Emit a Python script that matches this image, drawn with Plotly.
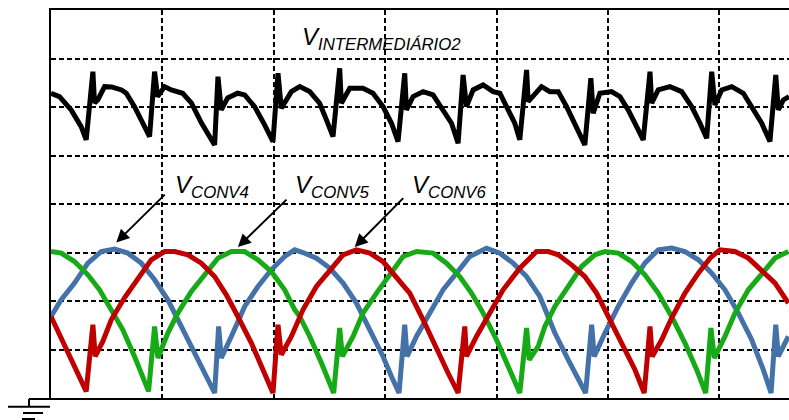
import plotly.graph_objects as go

# Oscilloscope capture: time and amplitude both expressed in screen divisions.

# V_INTERMEDIÁRIO2 (black trace)
t_int = [0.000, 0.076, 0.181, 0.271, 0.316, 0.376, 0.391, 0.420, 0.481, 0.544, 0.633, 0.676,
         0.750, 0.822, 0.885, 0.930, 0.957, 1.020, 1.080, 1.182, 1.260, 1.350, 1.469, 1.499,
         1.529, 1.586, 1.676, 1.739, 1.828, 1.918, 1.993, 2.038, 2.068, 2.158, 2.233, 2.323,
         2.412, 2.473, 2.532, 2.592, 2.607, 2.682, 2.801, 2.891, 2.981, 3.057, 3.116, 3.176,
         3.191, 3.251, 3.341, 3.430, 3.520, 3.596, 3.655, 3.700, 3.730, 3.790, 3.880, 3.969,
         4.030, 4.104, 4.164, 4.209, 4.270, 4.284, 4.359, 4.404, 4.479, 4.554, 4.629, 4.704,
         4.793, 4.847, 4.868, 4.928, 5.033, 5.108, 5.182, 5.258, 5.317, 5.378, 5.393, 5.452,
         5.557, 5.662, 5.752, 5.827, 5.887, 5.932, 5.961, 6.022, 6.112, 6.216, 6.291, 6.381,
         6.455, 6.507, 6.530, 6.575, 6.626]
v_int = [6.284, 6.214, 5.940, 5.595, 5.322, 6.729, 6.084, 6.146, 6.420, 6.413, 6.352, 6.284,
         6.008, 5.672, 5.389, 6.729, 6.214, 6.420, 6.352, 6.284, 6.084, 5.672, 5.218, 6.626,
         5.940, 6.187, 6.284, 6.249, 6.008, 5.631, 5.287, 6.696, 5.975, 6.317, 6.420, 6.317,
         6.078, 5.734, 5.389, 6.799, 6.078, 6.387, 6.387, 6.284, 6.008, 5.665, 5.287, 6.696,
         5.940, 6.214, 6.317, 6.249, 5.940, 5.665, 5.253, 6.661, 6.008, 6.352, 6.455, 6.317,
         6.284, 5.940, 5.665, 5.322, 6.764, 6.111, 6.284, 6.420, 6.317, 6.317, 6.008, 5.665,
         5.218, 6.593, 5.872, 6.284, 6.317, 6.214, 5.940, 5.595, 5.322, 6.729, 6.078, 6.352,
         6.420, 6.317, 6.008, 5.665, 5.357, 6.729, 6.043, 6.352, 6.420, 6.284, 6.008, 5.665,
         5.287, 6.661, 5.940, 6.146, 6.214]

# V_CONV4 (blue trace)
t_c4 = [0.000, 0.092, 0.211, 0.331, 0.451, 0.571, 0.690, 0.810, 0.930, 1.049, 1.170, 1.289,
        1.394, 1.469, 1.505, 1.529, 1.619, 1.739, 1.858, 1.978, 2.098, 2.188, 2.262, 2.383,
        2.502, 2.622, 2.742, 2.862, 2.981, 3.057, 3.125, 3.176, 3.197, 3.281, 3.401, 3.520,
        3.641, 3.760, 3.910, 4.030, 4.149, 4.270, 4.389, 4.434, 4.524, 4.643, 4.733, 4.800,
        4.854, 4.877, 4.973, 5.093, 5.213, 5.332, 5.452, 5.572, 5.692, 5.812, 5.932, 6.051,
        6.171, 6.291, 6.395, 6.465, 6.507, 6.530, 6.620]
v_c4 = [1.681, 2.025, 2.369, 2.781, 3.020, 3.070, 2.987, 2.781, 2.437, 2.025, 1.475, 0.927,
        0.445, 0.103, 1.475, 0.824, 1.269, 1.887, 2.299, 2.643, 2.917, 3.055, 3.000, 2.884,
        2.678, 2.369, 1.957, 1.407, 0.857, 0.445, 0.103, 1.510, 0.857, 1.269, 1.751, 2.231,
        2.575, 2.917, 3.090, 2.987, 2.781, 2.505, 2.093, 1.819, 1.339, 0.789, 0.377, 0.103,
        1.510, 0.857, 1.339, 1.887, 2.369, 2.781, 3.055, 3.090, 3.020, 2.849, 2.575, 2.231,
        1.751, 1.201, 0.583, 0.103, 1.510, 0.857, 1.269]

# V_CONV5 (green trace)
t_c5 = [0.000, 0.092, 0.211, 0.331, 0.436, 0.541, 0.645, 0.750, 0.876, 0.930, 0.960, 1.049,
        1.139, 1.260, 1.379, 1.499, 1.619, 1.739, 1.858, 1.978, 2.098, 2.188, 2.233, 2.323,
        2.428, 2.538, 2.592, 2.616, 2.712, 2.801, 2.922, 3.041, 3.161, 3.281, 3.430, 3.551,
        3.670, 3.775, 3.880, 4.000, 4.104, 4.209, 4.270, 4.293, 4.374, 4.434, 4.524, 4.643,
        4.764, 4.883, 4.973, 5.093, 5.213, 5.332, 5.452, 5.572, 5.692, 5.797, 5.878, 5.925,
        5.955, 6.051, 6.141, 6.261, 6.381, 6.501, 6.620]
v_c5 = [3.020, 2.987, 2.814, 2.540, 2.231, 1.819, 1.407, 0.857, 0.136, 1.475, 0.824, 1.339,
        1.751, 2.196, 2.540, 2.884, 3.020, 3.020, 2.849, 2.608, 2.231, 1.819, 1.681, 1.269,
        0.721, 0.103, 1.442, 0.857, 1.269, 1.751, 2.163, 2.540, 2.917, 3.020, 2.987, 2.781,
        2.505, 2.163, 1.751, 1.201, 0.651, 0.103, 1.442, 0.789, 1.063, 1.475, 1.887, 2.299,
        2.711, 2.952, 3.020, 2.987, 2.814, 2.540, 2.163, 1.681, 1.133, 0.583, 0.103, 1.442,
        0.824, 1.269, 1.751, 2.231, 2.575, 2.884, 3.020]

# V_CONV6 (red trace)
t_c6 = [0.000, 0.316, 0.376, 0.397, 0.465, 0.541, 0.660, 0.780, 0.900, 1.020, 1.110, 1.229,
        1.350, 1.469, 1.574, 1.678, 1.799, 1.903, 1.993, 2.038, 2.068, 2.158, 2.262, 2.383,
        2.502, 2.622, 2.742, 2.862, 2.981, 3.101, 3.221, 3.341, 3.461, 3.565, 3.655, 3.715,
        3.730, 3.820, 3.940, 4.059, 4.209, 4.359, 4.464, 4.554, 4.674, 4.793, 4.898, 5.003,
        5.123, 5.243, 5.326, 5.378, 5.398, 5.483, 5.572, 5.692, 5.812, 5.917, 6.006, 6.141,
        6.261, 6.381, 6.501, 6.620]
v_c6 = [1.681, 0.136, 1.510, 0.857, 1.166, 1.613, 2.066, 2.472, 2.849, 3.020, 3.020, 2.952,
        2.781, 2.505, 2.128, 1.681, 1.133, 0.583, 0.103, 1.510, 0.892, 1.269, 1.819, 2.299,
        2.643, 2.952, 3.055, 2.987, 2.814, 2.505, 2.163, 1.613, 0.995, 0.515, 0.103, 1.475,
        0.857, 1.269, 1.751, 2.231, 2.678, 3.020, 3.020, 2.952, 2.746, 2.505, 2.163, 1.681,
        1.133, 0.583, 0.103, 1.475, 0.857, 1.201, 1.648, 2.163, 2.575, 2.884, 3.055, 3.020,
        2.884, 2.643, 2.369, 1.957]

X_SPAN = 6.626   # visible horizontal divisions
Y_SPAN = 8.0     # vertical divisions

FONT = "Arial, Liberation Sans, sans-serif"

fig = go.Figure()

traces = [
    (t_c4, v_c4, "#4472A8", 5, "V_CONV4"),
    (t_c5, v_c5, "#17AA17", 5, "V_CONV5"),
    (t_c6, v_c6, "#C00000", 5, "V_CONV6"),
    (t_int, v_int, "#000000", 5, "V_INTERMEDIÁRIO2"),
]
for t, v, color, width, name in traces:
    fig.add_trace(go.Scatter(
        x=t, y=v, mode="lines", name=name,
        line=dict(color=color, width=width, shape="linear"),
        showlegend=False, hoverinfo="skip",
    ))

# Channel labels
labels = [
    ("V<sub>INTERMEDIÁRIO2</sub>", 2.233, 7.42),
    ("V<sub>CONV4</sub>", 1.092, 4.37),
    ("V<sub>CONV5</sub>", 2.172, 4.37),
    ("V<sub>CONV6</sub>", 3.221, 4.37),
]
for text, x, y in labels:
    fig.add_annotation(
        x=x, y=y, xref="x", yref="y", text=f"<i>{text}</i>", showarrow=False,
        xanchor="left", yanchor="middle",
        font=dict(family=FONT, size=24, color="#000000"),
    )

# Pointer arrows (tail -> tip)
arrows = [
    ((1.035, 4.223), (0.586, 3.206)),
    ((2.128, 4.120), (1.678, 3.111)),
    ((3.176, 4.153), (2.727, 3.111)),
]
for (tx, ty), (hx, hy) in arrows:
    fig.add_annotation(
        x=hx, y=hy, xref="x", yref="y", ax=tx, ay=ty, axref="x", ayref="y",
        text="", showarrow=True, arrowhead=2, arrowsize=1.3, arrowwidth=2,
        arrowcolor="#000000",
    )

# Ground symbol below the lower-left corner of the screen
L, T, W, H = 51, 10, 738, 388


def px(x):
    return (x - L) / W


def py(y):
    return (T + H - y) / H


ground = [
    (51, 399, 29, 399),
    (29, 399, 29, 406.5),
    (8, 406.7, 50, 406.7),
    (23, 413, 43, 413),
    (22, 419, 35, 419),
]
for x0, y0, x1, y1 in ground:
    fig.add_shape(type="line", xref="paper", yref="paper",
                  x0=px(x0), y0=py(y0), x1=px(x1), y1=py(y1),
                  line=dict(color="#000000", width=2))

axis_common = dict(
    showgrid=True, gridcolor="#000000", gridwidth=2, griddash="5px,3px",
    showline=True, linecolor="#000000", linewidth=2,
    zeroline=False, showticklabels=False, ticks="", dtick=1, tick0=0,
    fixedrange=True,
)

fig.update_xaxes(range=[0, X_SPAN], mirror=True, **axis_common)
fig.update_yaxes(range=[0, Y_SPAN], mirror=False, **axis_common)

fig.update_layout(
    width=789, height=420,
    margin=dict(l=L, r=0, t=T, b=420 - T - H, pad=0),
    paper_bgcolor="#FFFFFF", plot_bgcolor="#FFFFFF",
    font=dict(family=FONT),
)

fig.write_html("out.html")
